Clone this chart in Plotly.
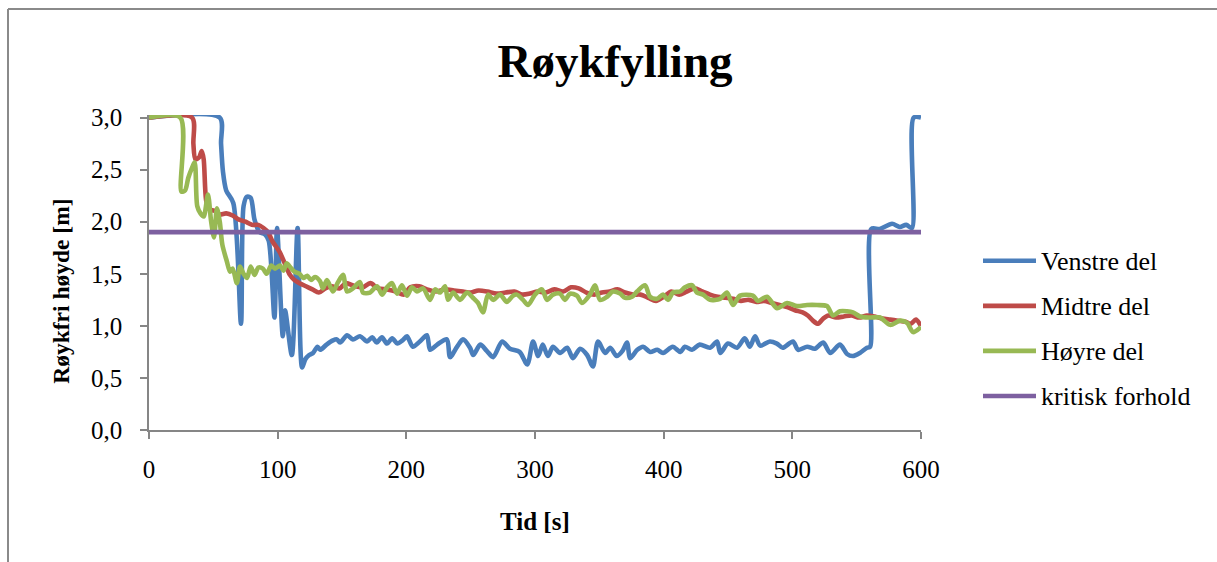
import plotly.graph_objects as go

# ---- data -------------------------------------------------------------
venstre_t = [0, 55, 56, 57.5, 60, 65.5, 71.5, 73.5, 76, 79, 82, 86, 90, 93, 97.5, 99.5,
             104, 105.7, 111, 115.5, 119, 121.5, 124.5, 127.5, 131, 133, 138, 143, 146,
             148.5, 154, 158.5, 164, 169.5, 173.5, 177, 181, 185, 189, 193, 197, 200.5,
             205, 210.5, 216, 218.5, 224, 231.5, 234, 239.5, 244, 249.5, 252, 257.5,
             262.5, 267.5, 274.5, 280.5, 288, 294, 298.5, 302.5, 306, 310, 314, 319.5,
             325, 329.5, 335, 340.5, 345, 349, 354.5, 358.5, 363.5, 368, 371.5, 374,
             379.5, 384, 389.5, 395, 399.5, 407, 413, 416.5, 422, 428, 436, 441.5, 444,
             450, 457, 463, 467, 471, 475, 482.5, 488, 492.5, 500.5, 504.5, 511.5, 517.5,
             524, 529.5, 537, 542.5, 547, 552.5, 558, 560.5, 561.3, 568, 577.5, 583.5,
             588.5, 593, 594.3, 600]
venstre_v = [3.0, 3.0, 2.75, 2.48, 2.3, 2.18, 1.02, 2.15, 2.24, 2.23, 2.02, 1.9, 1.88, 1.82,
             1.08, 1.94, 0.9, 1.15, 0.72, 1.94, 0.6, 0.68, 0.72, 0.74, 0.8, 0.77, 0.82,
             0.86, 0.87, 0.84, 0.91, 0.87, 0.9, 0.85, 0.89, 0.84, 0.89, 0.83, 0.88, 0.83,
             0.86, 0.9, 0.8, 0.85, 0.91, 0.77, 0.82, 0.87, 0.7, 0.8, 0.87, 0.79, 0.72,
             0.82, 0.76, 0.7, 0.85, 0.78, 0.75, 0.63, 0.85, 0.71, 0.82, 0.71, 0.8, 0.74,
             0.79, 0.69, 0.78, 0.72, 0.61, 0.85, 0.74, 0.79, 0.71, 0.76, 0.84, 0.69,
             0.77, 0.8, 0.75, 0.77, 0.74, 0.8, 0.75, 0.8, 0.77, 0.82, 0.79, 0.85, 0.74,
             0.83, 0.79, 0.88, 0.8, 0.9, 0.81, 0.85, 0.83, 0.79, 0.85, 0.77, 0.8, 0.78,
             0.84, 0.74, 0.82, 0.73, 0.71, 0.74, 0.79, 0.8, 1.93, 1.93, 1.98, 1.95,
             1.97, 1.94, 3.0, 3.0]

midtre_t = [0, 33.5, 34.5, 36, 39, 41, 42.5, 44.5, 47, 52,
            55, 60, 65, 70, 75, 80, 85, 89, 92.5, 96,
            101.5, 105.5, 109.5, 113, 117, 122, 127, 132, 137, 142,
            148, 153, 160, 166, 172, 178, 185, 192, 198, 203,
            210, 216, 223, 230, 237, 244, 250, 256, 263, 270,
            277, 284, 290, 296, 302, 308, 315, 322, 328, 334,
            340, 346, 352, 358, 364, 370, 376, 382, 388, 394,
            400, 406, 412, 418, 424, 430, 436, 442, 448, 454,
            460, 466, 472, 478, 484, 490, 496, 502, 508, 512,
            516, 520, 524, 528, 534, 540, 546, 552, 558, 564,
            570, 576, 582, 588, 592, 596, 600]
midtre_v = [3.0, 3.0, 2.75, 2.6, 2.62, 2.68, 2.6, 2.2, 2.12, 2.1,
            2.07, 2.08, 2.06, 2.02, 2.0, 1.97, 1.97, 1.94, 1.9, 1.81,
            1.71, 1.6, 1.49, 1.44, 1.41, 1.38, 1.35, 1.32, 1.36, 1.38,
            1.36, 1.41, 1.38, 1.37, 1.41, 1.36, 1.35, 1.33, 1.3, 1.37,
            1.38, 1.35, 1.33, 1.35, 1.34, 1.33, 1.32, 1.34, 1.33, 1.31,
            1.32, 1.33, 1.3, 1.31, 1.33, 1.32, 1.35, 1.33, 1.37, 1.36,
            1.32, 1.3, 1.32, 1.33, 1.35, 1.32, 1.3, 1.3, 1.27, 1.24,
            1.28, 1.33, 1.3, 1.33, 1.36, 1.33, 1.3, 1.28, 1.27, 1.26,
            1.24, 1.25, 1.23, 1.24, 1.22, 1.2, 1.18, 1.15, 1.13, 1.1,
            1.05, 1.02, 1.07, 1.1, 1.08, 1.09, 1.1, 1.08, 1.1, 1.09,
            1.07, 1.06, 1.05, 1.04, 1.02, 1.06, 1.0]

hoyre_t = [0, 24.3, 25.2, 28, 30.5, 33.5, 35.5, 37.5, 40, 42.5, 45.8, 48.3, 50.5, 52.8,
           55, 57, 60.5, 63, 65, 68.3, 70.7, 73.5, 76.2, 79, 82, 85, 88.5, 91.5, 95, 98,
           101.8, 104.5, 107, 110, 113, 117, 120, 123, 126, 129, 132.9, 135.2, 138.3,
           143, 146.9, 150.8, 153.9, 158.5, 164, 166.3, 171.8, 177.2, 181.1, 185, 188.9,
           192.7, 196.6, 200.5, 204.4, 208.3, 213, 218.4, 222.3, 226.2, 230.1, 232.4,
           236.3, 241.7, 247.2, 251.8, 255.7, 259.6, 263.5, 267.4, 272.8, 278.2, 282.9,
           286, 290.7, 294.6, 300, 305.4, 309.3, 314, 319.4, 323.3, 327.2, 332.6, 336.5,
           342.7, 346.6, 350.5, 356, 360.6, 366.1, 370, 375.4, 379.3, 385.5, 389.4,
           394.8, 399.5, 403.4, 407.3, 412.7, 416.6, 422, 425.9, 430.6, 436, 443.8,
           449.2, 453.9, 459.3, 469.4, 473.3, 480.3, 488.1, 495.9, 503.7, 511.4, 519.2,
           526.9, 531.6, 537, 542.5, 547.1, 552.6, 560.4, 568.2, 576, 583.7, 589.1,
           593.8, 600]
hoyre_v = [3.0, 3.0, 2.29, 2.3, 2.42, 2.52, 2.57, 2.15, 2.08, 2.05, 2.26, 2.0, 1.85, 2.13,
           2.0, 1.78, 1.62, 1.52, 1.55, 1.41, 1.57, 1.5, 1.46, 1.57, 1.49, 1.56, 1.55, 1.5,
           1.58, 1.55, 1.58, 1.53, 1.6, 1.56, 1.52, 1.5, 1.46, 1.48, 1.44, 1.47, 1.43,
           1.36, 1.44, 1.33, 1.42, 1.49, 1.33, 1.36, 1.42, 1.32, 1.32, 1.38, 1.3, 1.37,
           1.41, 1.31, 1.39, 1.29, 1.37, 1.33, 1.36, 1.25, 1.35, 1.32, 1.38, 1.25, 1.32,
           1.25, 1.32, 1.27, 1.22, 1.13, 1.3, 1.25, 1.3, 1.23, 1.29, 1.3, 1.25, 1.2, 1.3,
           1.35, 1.25, 1.3, 1.31, 1.25, 1.31, 1.29, 1.22, 1.3, 1.39, 1.25, 1.28, 1.33,
           1.31, 1.27, 1.28, 1.33, 1.39, 1.28, 1.26, 1.3, 1.25, 1.32, 1.33, 1.37, 1.39,
           1.32, 1.3, 1.25, 1.26, 1.32, 1.2, 1.29, 1.29, 1.24, 1.28, 1.17, 1.22, 1.19,
           1.2, 1.2, 1.19, 1.1, 1.14, 1.14, 1.13, 1.09, 1.08, 1.08, 1.01, 1.05, 1.03,
           0.94, 0.99]

kritisk_t = [0, 600]
kritisk_v = [1.9, 1.9]

series_names = ["Venstre del", "Midtre del", "Høyre del", "kritisk forhold"]
series_colors = ["#4A7EBB", "#BE4B48", "#98B954", "#7D60A0"]
series_t = [venstre_t, midtre_t, hoyre_t, kritisk_t]
series_v = [venstre_v, midtre_v, hoyre_v, kritisk_v]

x_ticks = [0, 100, 200, 300, 400, 500, 600]
y_ticks = [0.0, 0.5, 1.0, 1.5, 2.0, 2.5, 3.0]

for t, v, n in zip(series_t, series_v, series_names):
    assert len(t) == len(v), (n, len(t), len(v))

# ---- figure geometry (pixels) -------------------------------------------
W, H = 1217, 562
PL, PR = 149, 921          # plot left / right
PB = 430                   # plot bottom (y = 0)
Y_TOP = 3.025              # small headroom so lines at 3,0 are not cut
PH = 312 * Y_TOP / 3.0     # plot height in px
PT = PB - PH


def px_x(px):
    return (px - PL) / (PR - PL)


def px_y(py):
    return (PB - py) / PH


FONT = "Liberation Serif"
AXIS_GREY = "#868686"

fig = go.Figure()
for t, v, name, color in zip(series_t, series_v, series_names, series_colors):
    fig.add_trace(go.Scatter(
        x=t, y=v, name=name, mode="lines",
        line=dict(color=color, width=4.6, shape="spline", smoothing=0.8),
        showlegend=False,
    ))

axis_common = dict(
    showline=True, linecolor=AXIS_GREY, linewidth=1.5,
    ticks="outside", ticklen=7, tickcolor=AXIS_GREY, tickwidth=1.5,
    showgrid=False, zeroline=False,
    tickfont=dict(family=FONT, size=25, color="black"),
)

fig.update_xaxes(range=[0, 600], tickvals=x_ticks, ticklabelstandoff=9, **axis_common)
fig.update_yaxes(range=[0, Y_TOP], tickvals=y_ticks, tickformat=".1f",
                 ticklabelstandoff=13, **axis_common)

annotations = [
    dict(text="<b>Røykfri høyde [m]</b>", textangle=-90, x=px_x(61), y=px_y(292),
         xref="paper", yref="paper", xanchor="center", yanchor="middle",
         showarrow=False, font=dict(family=FONT, size=23.5, color="black")),
    dict(text="<b>Tid [s]</b>", x=px_x(535), y=px_y(521),
         xref="paper", yref="paper", xanchor="center", yanchor="middle",
         showarrow=False, font=dict(family=FONT, size=25, color="black")),
]

shapes = [
    # outer chart frame (top and left edges)
    dict(type="line", xref="paper", yref="paper", x0=px_x(8), x1=px_x(1230),
         y0=px_y(9.5), y1=px_y(9.5), line=dict(color="#8A8A8A", width=2)),
    dict(type="line", xref="paper", yref="paper", x0=px_x(8), x1=px_x(8),
         y0=px_y(9.5), y1=px_y(580), line=dict(color="#8A8A8A", width=2)),
]

# legend entries on the right
legend_rows = [261, 306, 351, 396]
for name, color, row in zip(series_names, series_colors, legend_rows):
    shapes.append(dict(type="line", xref="paper", yref="paper",
                       x0=px_x(983), x1=px_x(1036), y0=px_y(row), y1=px_y(row),
                       line=dict(color=color, width=4.6)))
    annotations.append(dict(text=name, x=px_x(1039), y=px_y(row + 1), xref="paper",
                            yref="paper", xanchor="left", yanchor="middle",
                            showarrow=False,
                            font=dict(family=FONT, size=26, color="black")))

fig.update_layout(
    width=W, height=H,
    margin=dict(l=PL, r=W - PR, t=PT, b=H - PB, pad=0),
    paper_bgcolor="white", plot_bgcolor="white",
    separators=", ",
    title=dict(text="<b>Røykfylling</b>", xref="container", yref="container",
               x=615 / W, y=1 - 61 / H, xanchor="center", yanchor="middle",
               font=dict(family=FONT, size=47, color="black")),
    annotations=annotations,
    shapes=shapes,
)

fig.write_html("out.html")
